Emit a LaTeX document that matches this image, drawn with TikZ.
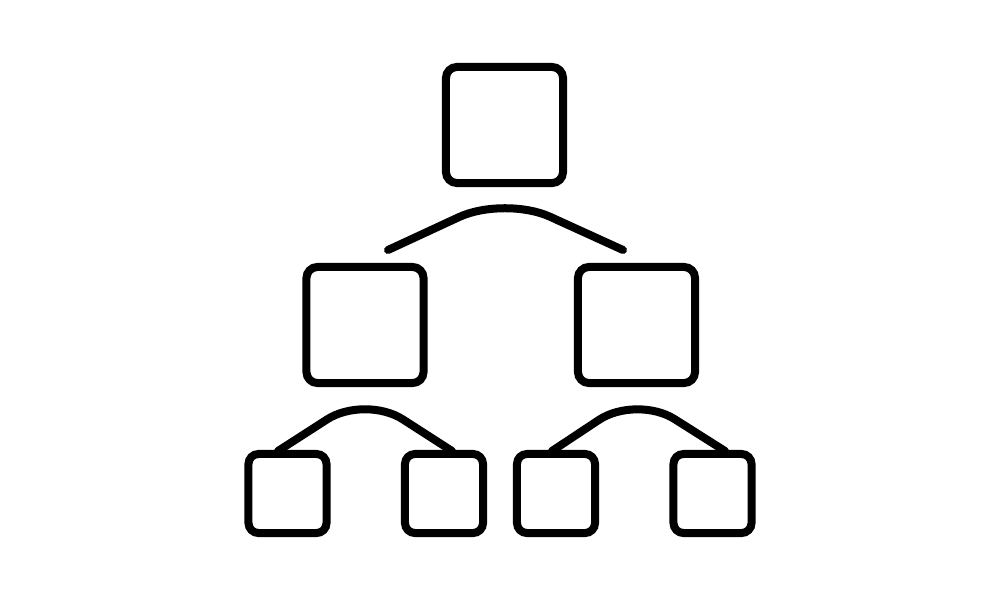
\documentclass[tikz,border=0pt]{standalone}
\usetikzlibrary{positioning}

\begin{document}
\begin{tikzpicture}[
    x=0.01cm, y=-0.01cm,
    box/.style={draw=black, fill=white, rectangle, line width=0.08cm, rounded corners=1.1mm, inner sep=0pt},
    bigbox/.style={box, minimum width=1.17cm, minimum height=1.16cm},
    smallbox/.style={box, minimum width=0.78cm, minimum height=0.79cm, rounded corners=1mm},
    link/.style={draw=black, line width=0.08cm, line cap=round, line join=round}
]
\useasboundingbox[fill=white] (0,0) rectangle (1000,600);

% Top level
\node[bigbox] (root) at (504.5,125) {};

% Second level
\node[bigbox] (midL) at (365,325) {};
\node[bigbox] (midR) at (636.5,325) {};

% Third level
\node[smallbox] (leafA) at (287.5,493.5) {};
\node[smallbox] (leafB) at (444,493.5) {};
\node[smallbox] (leafC) at (556,493.5) {};
\node[smallbox] (leafD) at (712.5,493.5) {};

% Connector ends
\coordinate (rootL) at (388,250);
\coordinate (rootR) at (623,250);
\coordinate (midLa) at (278,451);
\coordinate (midLb) at (452,451);
\coordinate (midRa) at (552,451);
\coordinate (midRb) at (725,451);

% Connectors
\draw[link, rounded corners=5mm] (rootL) -- (root.south |- 0,196) -- (rootR);
\draw[link, rounded corners=4.5mm] (midLa) -- (midL.south |- 0,395) -- (midLb);
\draw[link, rounded corners=4.5mm] (midRa) -- (midR.south |- 0,395) -- (midRb);
\end{tikzpicture}
\end{document}
